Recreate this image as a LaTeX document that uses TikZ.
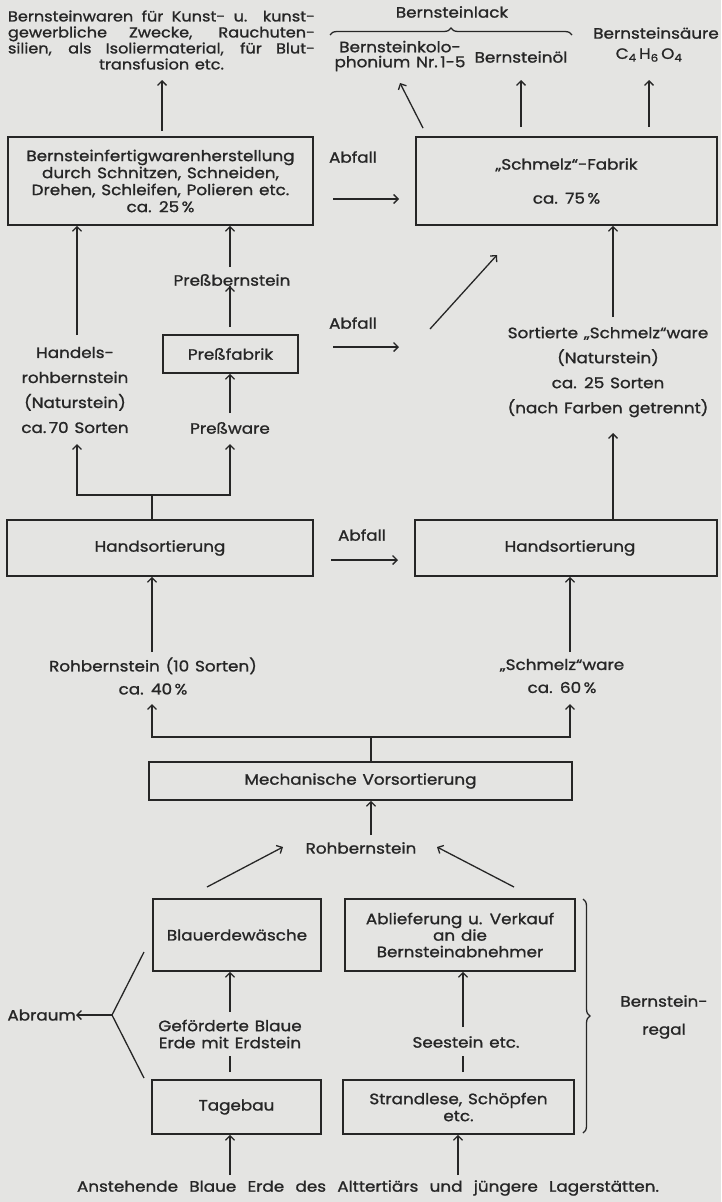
\documentclass[tikz,border=0pt]{standalone}
\usepackage{fontspec}
\setmainfont{Poppins}[FakeStretch=1.12, FakeBold=1.2, WordSpace=1.3]
\usetikzlibrary{arrows.meta,decorations.pathreplacing}
\definecolor{bg}{HTML}{E4E4E2}
\definecolor{ink}{HTML}{262626}
\newcommand\myfs[1]{\fontsize{15}{#1}\selectfont}
\begin{document}
\begin{tikzpicture}[x=1pt,y=-1pt,
  every node/.style={text=ink, font=\myfs{16}, inner sep=0pt},
  box/.style={draw=ink, line width=1.7pt, align=center},
  lbl/.style={align=center},
  arr/.style={draw=ink, line width=1.3pt, -{Straight Barb[length=4.5pt,width=9pt,line width=1.3pt]}},
  ln/.style={draw=ink, line width=1.3pt},
  brc/.style={draw=ink, line width=1.3pt, decorate, decoration={brace, amplitude=7pt}},
]
\fill[bg] (0,0) rectangle (721,1202);
\useasboundingbox (0,0) rectangle (721,1202);

% ---------- top outputs ----------
\node[lbl, font=\fontsize{14.4}{16}\selectfont] (top1) at (161.5,40)
  {\makebox[307pt][s]{Bernsteinwaren für Kunst- u. kunst-}\\
   \makebox[307pt][s]{gewerbliche Zwecke, Rauchuten-}\\
   \makebox[307pt][s]{silien, als Isoliermaterial, für Blut-}\\
   transfusion etc.};
\node (lack) at (452,12) {Bernsteinlack};
\node[lbl, font=\myfs{15}] (kolo) at (400,56) {Bernsteinkolo-\\phonium Nr.\,1-5};
\node (oel) at (521,57) {Bernsteinöl};
\node (saeure) at (656,33) {Bernsteinsäure};
\node (formel) at (649,55) {C\textsubscript{4}\,H\textsubscript{6}\,O\textsubscript{4}};
\coordinate (bl) at (330,35);
\coordinate (br) at (572,35);
\draw[brc] (bl) -- (br);

% ---------- upper boxes ----------
\node[box, minimum width=305pt, minimum height=88pt, font=\myfs{17}] (box1) at (160.5,181)
  {Bernsteinfertigwarenherstellung\\durch Schnitzen, Schneiden,\\Drehen, Schleifen, Polieren etc.\\ca. 25\,\%};
\node[box, minimum width=301pt, minimum height=88pt, font=\myfs{17}] (schmelz) at (566.5,181)
  {„Schmelz“-Fabrik\\[17pt]ca. 75\,\%};

\coordinate (h1) at (162,80);
\coordinate (h2) at (400,83);
\coordinate (h3) at (521,80);
\coordinate (h4) at (649,80);
\draw[arr, shorten <=5pt] (box1.north -| h1) -- (h1);
\draw[arr, shorten <=9pt] ([xshift=12pt]schmelz.north west) -- (h2);
\draw[arr, shorten <=9pt] (schmelz.north -| h3) -- (h3);
\draw[arr, shorten <=9pt] (schmelz.north -| h4) -- (h4);

% Abfall 1
\node (abf1) at (353,157) {Abfall};
\coordinate (a1s) at (333,199);
\coordinate (a1e) at (399,199);
\draw[arr] (a1s) -- (a1e);

% ---------- middle left ----------
\node[lbl, font=\myfs{25}] (handels) at (75,390)
  {Handels-\\rohbernstein\\(Naturstein)\\ca.\,70 Sorten};
\node (pressbern) at (232,280) {Preßbernstein};
\node[box, minimum width=135pt, minimum height=38pt] (pressfab) at (230.5,354) {Preßfabrik};
\node (pressware) at (230,428) {Preßware};

\draw[arr, shorten <=0pt] (77,335) -- (box1.south -| 77,0);
\coordinate (pb) at (230,267);
\draw[arr] (pb) -- (box1.south -| pb);
\draw[arr, shorten <=1pt] (pressfab.north -| pb) ++(0,-7) -- (pressbern.south -| pb) ++(0,0);
\draw[arr] (230,413) -- (pressfab.south -| pb);

% Abfall 2
\node (abf2) at (353,323) {Abfall};
\coordinate (a2s) at (333,347);
\coordinate (a2e) at (399,347);
\draw[arr] (a2s) -- (a2e);
\coordinate (d2s) at (430,329);
\coordinate (d2e) at (497,255);
\draw[arr] (d2s) -- (d2e);

% ---------- middle right ----------
\node[lbl, font=\myfs{25}] (sortiert) at (608,372)
  {Sortierte „Schmelz“ware\\(Naturstein)\\ca. 25 Sorten\\(nach Farben getrennt)};
\coordinate (s1) at (613,317);
\draw[arr] (s1) -- (schmelz.south -| s1);

% ---------- Handsortierung ----------
\node[box, minimum width=306pt, minimum height=56pt] (hs1) at (160,548) {Handsortierung};
\node[box, minimum width=302pt, minimum height=56pt] (hs2) at (566,548) {\hspace*{8pt}Handsortierung};
\coordinate (s2) at (613,433);
\draw[arr] (hs2.north -| s2) -- (s2);

% branch above hs1
\coordinate (j1) at (152,495);
\draw[ln] (hs1.north -| j1) ++(0,-6) -- (j1);
\draw[ln] (hs1.north -| j1) -- ++(0,-6);
\draw[arr] (j1) -| (77,444);
\draw[arr] (j1) -| (230,444);

% Abfall 3
\node (abf3) at (362,535) {Abfall};
\coordinate (a3s) at (331,560);
\coordinate (a3e) at (398,560);
\draw[arr] (a3s) -- (a3e);

% ---------- lower middle ----------
\node[lbl, font=\myfs{23}] (roh10) at (153,676) {Rohbernstein (10 Sorten)\\ca. 40\,\%};
\node[lbl, font=\myfs{23}] (sware) at (562,676) {„Schmelz“ware\\ca. 60\,\%};
\coordinate (r1) at (152,652);
\coordinate (r2) at (570,652);
\draw[arr] (r1) -- (hs1.south -| r1);
\draw[arr] (r2) -- (hs2.south -| r2);

\node[box, minimum width=423pt, minimum height=38pt] (mech) at (360.5,781) {Mechanische Vorsortierung};
\coordinate (j2) at (371,737);
\draw[ln] (mech.north -| j2) ++(0,-6) -- (j2);
\draw[ln] (mech.north -| j2) -- ++(0,-6);
\draw[arr] (j2) -| (152,704);
\draw[arr] (j2) -| (570,704);

\node (rohb) at (361,848) {Rohbernstein};
\coordinate (m1) at (371,835);
\draw[arr] (m1) -- (mech.south -| m1);

% ---------- bottom boxes ----------
\node[box, minimum width=168pt, minimum height=72pt] (blau) at (237,935) {Blauerdewäsche};
\node[box, minimum width=230pt, minimum height=72pt, font=\myfs{16.5}] (ablief) at (460,935)
  {Ablieferung u. Verkauf\\an die\\Bernsteinabnehmer};
\coordinate (d3s) at (207,887);
\coordinate (d3e) at (283,847);
\coordinate (d4s) at (514,887);
\coordinate (d4e) at (437,847);
\draw[arr] (d3s) -- (d3e);
\draw[arr] (d4s) -- (d4e);

\node[lbl, font=\myfs{17}] (gef) at (230,1034) {Geförderte Blaue\\Erde mit Erdstein};
\node (see) at (466,1042) {Seestein etc.};
\node[box, minimum width=169pt, minimum height=54pt] (tage) at (236.5,1107) {Tagebau};
\node[box, minimum width=231pt, minimum height=54pt, font=\myfs{17}] (strand) at (458.5,1107)
  {Strandlese, Schöpfen\\etc.};

\coordinate (g1) at (230,1012);
\draw[arr] (g1) -- (blau.south -| g1);
\draw[ln] (tage.north -| g1) ++(0,-7) -- ++(0,-16);
\coordinate (g2) at (463,1027);
\draw[arr] (g2) -- (ablief.south -| g2);
\draw[ln] (strand.north -| g2) ++(0,-7) -- ++(0,-16);

% Abraum
\node[anchor=east] (abraum) at (76,1015) {Abraum};
\coordinate (ab) at (112,1015);
\draw[ln] (144,952) -- (ab) -- (144,1078);
\draw[arr] (ab) -- (abraum.east);

% Bernsteinregal brace
\coordinate (rt) at (583,899);
\coordinate (rb) at (583,1133);
\draw[brc] (rt) -- (rb);
\node[lbl, font=\myfs{28}] (regal) at (664,1017) {Bernstein-\\regal};

% bottom
\node (anst) at (368,1188) {\makebox[582pt][s]{Anstehende Blaue Erde des Alttertiärs und jüngere Lagerstätten.}};
\draw[arr] (230,1175) -- (tage.south -| 230,0);
\draw[arr] (458,1175) -- (strand.south -| 458,0);
\end{tikzpicture}
\end{document}
